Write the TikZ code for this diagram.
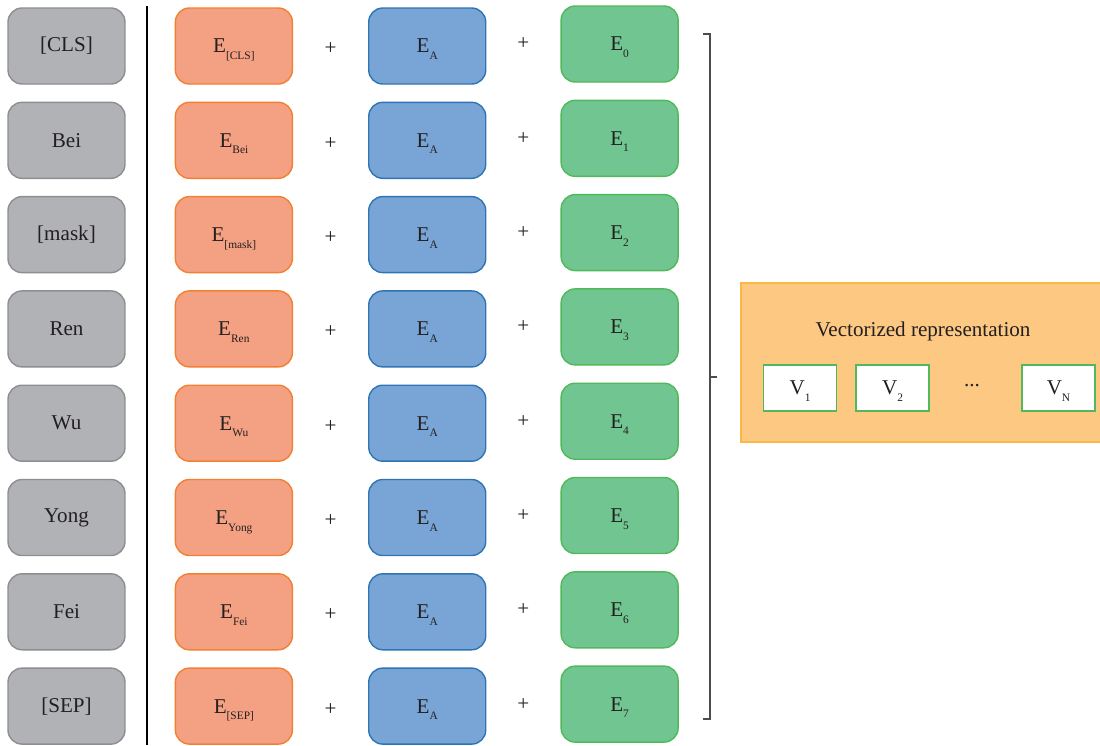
\documentclass[tikz,border=0pt]{standalone}
\usepackage{fontspec}
\setmainfont{Liberation Serif}
\usetikzlibrary{positioning}

\definecolor{ink}{HTML}{231F20}
\definecolor{tokfill}{HTML}{B1B2B6}
\definecolor{tokline}{HTML}{8E8E92}
\definecolor{wordfill}{HTML}{F4A183}
\definecolor{wordline}{HTML}{F28030}
\definecolor{segfill}{HTML}{78A5D6}
\definecolor{segline}{HTML}{2E75B6}
\definecolor{posfill}{HTML}{70C591}
\definecolor{posline}{HTML}{50B95A}
\definecolor{reprfill}{HTML}{FCC882}
\definecolor{reprline}{HTML}{F9BA45}

% lowered small label after E / V (kept out of the node's size)
\newcommand{\sbx}[1]{\raisebox{-3.8pt}[0pt][0pt]{\fontsize{6.5}{7}\selectfont #1}}

\begin{document}
\begin{tikzpicture}[x=0.02cm, y=-0.02cm, node distance=1cm,
    font=\fontsize{12}{14}\selectfont, text=ink,
    box/.style={rectangle, rounded corners=0.28cm, minimum width=2.34cm,
                minimum height=1.52cm, line width=0.8pt, inner sep=0pt},
    tokbox/.style={box, draw=tokline, fill=tokfill},
    wordbox/.style={box, draw=wordline, fill=wordfill},
    segbox/.style={box, draw=segline, fill=segfill},
    posbox/.style={box, draw=posline, fill=posfill},
    reprbox/.style={rectangle, draw=reprline, fill=reprfill, line width=0.8pt,
                minimum width=7.26cm, minimum height=3.18cm},
    vecbox/.style={rectangle, draw=posline, fill=white, line width=0.8pt,
                minimum width=1.46cm, minimum height=0.92cm, inner sep=0pt},
    bracket/.style={draw=black!70, line width=0.8pt}]

    \useasboundingbox (0,0) rectangle (1100,745);

    % one row per input token
    \foreach \tok [count=\i from 0] in {{[CLS]},Bei,{[mask]},Ren,Wu,Yong,Fei,{[SEP]}} {
        \node[tokbox] (tok\i) at (66.5,{46+94.3*\i}) {\tok};
        \node[wordbox, right=0.98cm of tok\i] (word\i) {E\sbx{\tok}};
        \node[segbox, right=1.5cm of word\i] (seg\i) {E\sbx{A}};
        \node[posbox, right=1.48cm of seg\i, yshift=0.04cm] (pos\i) {E\sbx{\i}};
        \path (word\i) -- (seg\i) node[midway, yshift=-0.06cm] {+};
        \path (seg\i) -- (pos\i) node[midway, yshift=0.02cm] {+};
    }

    \draw[line width=0.6pt] (147,6) -- (147,745);

    % brace over the summed embeddings
    \coordinate (brtop) at (703,34);
    \coordinate (brbot) at (703,719);
    \coordinate (brmid) at (710,377);
    \draw[bracket] (brtop) -- ++(7,0) |- (brbot);
    \draw[bracket] (brmid) -- ++(7,0);

    \node[reprbox] (repr) at (922.5,362.5) {};
    \node (title) at (923,331) {Vectorized representation};
    \node[vecbox] (v1) at (800,388) {V\sbx{1}};
    \node[vecbox] (v2) at (892.5,388) {V\sbx{2}};
    \node (vdots) at (972,386) {...};
    \node[vecbox] (vn) at (1058.5,388) {V\sbx{N}};
\end{tikzpicture}
\end{document}
